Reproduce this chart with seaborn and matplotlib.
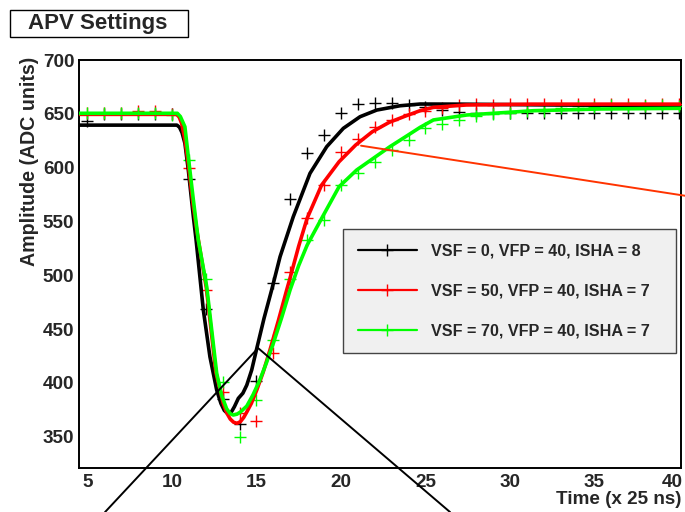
import numpy as np
import pandas as pd
import matplotlib
matplotlib.use("Agg")
import matplotlib.pyplot as plt
import matplotlib.transforms as mtransforms
import seaborn as sns
from matplotlib.lines import Line2D
from matplotlib.patches import Rectangle

sns.set_style("white")
plt.rcParams['font.family'] = ['Liberation Sans', 'DejaVu Sans']
plt.rcParams['font.weight'] = 'bold'

# ---------------- data ----------------
sample_x = list(range(5, 41))
black_pts = [643, 650, 650, 650, 650, 650, 589, 469, 385, 362, 402, 493, 571, 614, 630,
             651, 659, 660, 660, 658, 656, 654, 652, 651, 651, 651, 651, 651, 651, 651,
             651, 651, 651, 651, 651, 651]
red_pts = [651, 651, 651, 653, 653, 650, 600, 486, 392, 372, 365, 428, 503, 553, 584,
           615, 627, 638, 644, 650, 653, 655, 658, 659, 658, 659, 659, 659, 658, 659,
           659, 659, 659, 658, 659, 659]
green_pts = [651, 651, 651, 651, 651, 649, 607, 497, 401, 350, 384, 440, 497, 533, 551,
             584, 595, 605, 616, 626, 637, 641, 644, 648, 650, 651, 653, 653, 655, 657,
             656, 658, 656, 657, 658, 657]

black_fit_x = [4.48, 10.3, 10.45, 10.6, 10.77, 10.97, 11.27, 11.43, 11.86, 12.25, 12.65,
               12.9, 13.1, 13.3, 13.5, 13.7, 13.93, 14.2, 14.43, 14.72, 15.02, 15.45,
               15.9, 16.4, 17.18, 18.17, 19.16, 20.14, 21.13, 22.12, 23.5, 24.68, 27.0,
               32.0, 40.12]
black_fit_y = [639.5, 639.5, 637.5, 632.5, 622.6, 598.0, 554.4, 533.0, 467.7, 424.3, 393.4,
               381.0, 374.5, 371.5, 372.5, 378.0, 385.7, 390.5, 398.0, 412.0, 432.0, 460.0,
               486.3, 517.3, 554.4, 594.7, 619.5, 636.5, 647.3, 653.5, 657.5, 659.1, 659.0,
               658.3, 657.5]

red_fit_x = [4.48, 10.28, 10.43, 10.58, 10.77, 10.95, 11.25, 11.47, 12.04, 12.6, 13.04,
             13.25, 13.45, 13.65, 13.85, 14.05, 14.25, 14.43, 14.7, 15.02, 15.4, 15.8,
             16.3, 16.79, 17.0, 17.5, 18.0, 18.86, 19.89, 20.87, 21.86, 22.86, 23.83,
             24.68, 25.47, 27.4, 31.3, 40.12]
red_fit_y = [649.5, 649.5, 647.0, 641.0, 626.0, 606.0, 566.0, 542.0, 488.0, 410.0, 381.0,
             372.0, 366.5, 363.5, 362.5, 364.0, 368.0, 373.0, 381.0, 393.4, 410.0, 430.6,
             458.0, 486.3, 498.0, 527.0, 552.9, 583.9, 605.5, 621.0, 633.4, 642.1, 648.0,
             652.9, 656.0, 658.2, 659.0, 659.0]

green_fit_x = [4.48, 10.32, 10.5, 10.77, 10.97, 11.27, 11.56, 12.06, 12.65, 12.95, 13.24,
               13.45, 13.63, 13.85, 14.05, 14.43, 14.8, 15.2, 15.6, 16.0, 16.5, 16.99,
               17.5, 18.0, 18.86, 19.89, 20.93, 21.92, 22.9, 23.89, 24.68, 25.47, 27.44,
               31.4, 35.3, 40.12]
green_fit_y = [650.5, 650.5, 647.5, 638.0, 610.2, 570.0, 532.8, 489.4, 409.0, 388.0, 376.0,
               371.5, 370.2, 371.0, 373.0, 378.5, 389.0, 402.7, 419.0, 436.8, 461.0, 486.3,
               509.0, 528.0, 552.9, 582.3, 597.8, 608.7, 619.5, 629.4, 637.4, 644.3, 648.9,
               652.9, 654.5, 655.1]

# annotation lines (drawn outside the frame in the original)
arrow_x = [6.04, 15.1, 26.46]
arrow_y = [280.0, 432.4, 280.0]
slope_x = [21.19, 40.36]
slope_y = [620.4, 573.9]

labels = ["VSF = 0, VFP = 40, ISHA = 8",
          "VSF = 50, VFP = 40, ISHA = 7",
          "VSF = 70, VFP = 40, ISHA = 7"]
colors = ["#000000", "#ff0000", "#00ff00"]

# ---------------- figure ----------------
W, H = 685, 512
fig = plt.figure(figsize=(W / 100, H / 100), dpi=100)
ax = fig.add_axes([78.6 / W, 1 - 468 / H, (681 - 78.6) / W, (468 - 60) / H])

series = [(black_pts, black_fit_x, black_fit_y),
          (red_pts, red_fit_x, red_fit_y),
          (green_pts, green_fit_x, green_fit_y)]

for (pts, fx, fy), c in zip(series, colors):
    sns.scatterplot(x=sample_x, y=pts, marker="+", s=70, color=c, linewidth=1.0,
                    ax=ax, zorder=3)
for (pts, fx, fy), c in zip(series, colors):
    sns.lineplot(x=fx, y=fy, color=c, lw=2.6, sort=False, estimator=None, ax=ax,
                 zorder=4)

n_before = len(ax.lines)
sns.lineplot(x=arrow_x, y=arrow_y, color="black", lw=1.4, sort=False, estimator=None,
             ax=ax, zorder=5)
sns.lineplot(x=slope_x, y=slope_y, color="#ff3300", lw=1.4, sort=False, estimator=None,
             ax=ax, zorder=5)
for ln in ax.lines[n_before:]:
    ln.set_clip_on(False)

ax.set_xlim(4.48, 40.12)
ax.set_ylim(321, 700)
ax.set_xticks(range(5, 41, 5))
ax.set_yticks(range(350, 701, 50))
ax.set_xticks(range(5, 41), minor=True)
ax.set_yticks(range(330, 701, 10), minor=True)
ax.tick_params(axis="both", which="both", direction="in", width=1.0, color="black",
               labelsize=13.6)
ax.tick_params(axis="y", which="major", length=10, pad=3)
ax.tick_params(axis="y", which="minor", length=5)
ax.tick_params(axis="x", which="major", length=8.5, pad=4)
ax.tick_params(axis="x", which="minor", length=3.3)
ax.tick_params(top=False, right=False, which="both")
for lab in ax.get_xticklabels() + ax.get_yticklabels():
    lab.set_fontweight("bold")
# last x label sits shifted left so it stays inside the canvas (as in the original)
last = ax.get_xticklabels()[-1]
last.set_transform(last.get_transform() +
                   mtransforms.ScaledTranslation(-7 / 100, 0, fig.dpi_scale_trans))
for sp in ax.spines.values():
    sp.set_visible(True)
    sp.set_color("black")
    sp.set_linewidth(1.4)
ax.set_xlabel("")
ax.set_ylabel("")

fig.text(30 / W, 1 - 57 / H, "Amplitude (ADC units)", rotation=90, ha="center",
         va="top", fontsize=14.1, fontweight="bold")
fig.text(681 / W, 1 - 499 / H, "Time (x 25 ns)", ha="right", va="center",
         fontsize=13.6, fontweight="bold")

# title box
fig.patches.append(Rectangle((10 / W, 1 - 37 / H), 178 / W, 27 / H,
                             transform=fig.transFigure, facecolor="white",
                             edgecolor="black", lw=1.0))
fig.text(97.5 / W, 1 - 23.5 / H, "APV Settings", ha="center", va="center",
         fontsize=16, fontweight="bold")

# legend
handles = [Line2D([0], [0], color=c, lw=1.6, marker="+", markersize=8,
                  markeredgewidth=1.0) for c in colors]
leg = ax.legend(handles, labels, loc="upper left",
                bbox_to_anchor=(343 / W, 1 - 229 / H, (676 - 343) / W, 0.0),
                bbox_transform=fig.transFigure, mode="expand",
                prop={"weight": "bold", "size": 11.6}, frameon=True, fancybox=False,
                facecolor="#f0f0f0", edgecolor="#444444", framealpha=1.0,
                borderaxespad=0.0, borderpad=0.9, labelspacing=1.55,
                handlelength=3.7, handletextpad=0.85)
leg.get_frame().set_linewidth(1.0)

fig.savefig("out.png", dpi=100)
